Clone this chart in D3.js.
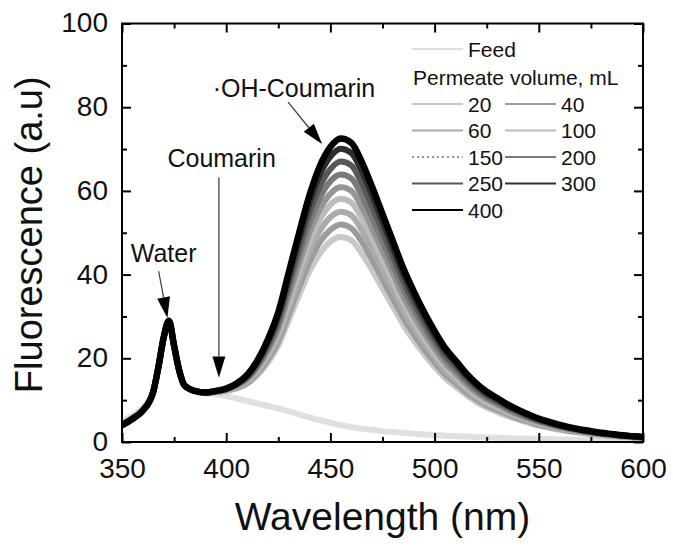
<!DOCTYPE html>
<html>
<head>
<meta charset="utf-8">
<script src="https://cdn.jsdelivr.net/npm/d3@7"></script>
<style>
  html, body { margin: 0; padding: 0; background: #fff; }
  svg { display: block; font-family: "Liberation Sans", Arial, sans-serif; }
</style>
</head>
<body>
<svg id="chart" width="673" height="546"></svg>
<script>
// Emission wavelengths (nm)
const wavelength = [350, 355, 360, 365, 367.5, 370, 372.5, 375, 377.5, 380, 385, 390, 395, 400,
  405, 410, 415, 420, 425, 430, 435, 440, 445, 450, 455, 460, 465, 470, 475, 480, 485, 490, 495, 500,
  505, 510, 515, 520, 525, 530, 535, 540, 545, 550, 555, 560, 565, 570, 575, 580, 585, 590, 595, 600];

// Fluorescence intensity (a.u.) per sample
const feed = [5.0, 6.3, 8.2, 12.3, 17.8, 24.5, 28.5, 22.5, 16.8, 13.5, 12.1, 11.6, 11.4, 11.0,
  10.4, 9.8, 9.2, 8.6, 8.0, 7.3, 6.6, 5.9, 5.2, 4.6, 4.0, 3.6, 3.2, 2.9, 2.6, 2.4, 2.2, 2.0, 1.8, 1.7,
  1.5, 1.4, 1.3, 1.2, 1.1, 1.0, 0.9, 0.85, 0.8, 0.75, 0.7, 0.65, 0.6, 0.55, 0.5, 0.5, 0.45, 0.45, 0.4, 0.4];
const p20 = [4.3, 5.8, 7.7, 12.1, 17.9, 24.8, 28.8, 22.8, 16.9, 13.5, 12.2, 11.7, 11.9, 12.2,
  12.8, 13.9, 16.0, 19.0, 23.1, 29.1, 35.1, 40.8, 45.1, 47.9, 49.0, 48.2, 45.1, 41.1, 36.7, 32.4, 28.0, 24.3, 21.0, 18.0,
  15.3, 13.3, 11.3, 9.6, 8.3, 7.2, 6.2, 5.4, 4.6, 3.9, 3.4, 2.9, 2.5, 2.2, 1.9, 1.6, 1.4, 1.2, 1.1, 0.9];
const p40 = [4.3, 5.7, 7.7, 12.1, 17.9, 24.9, 28.9, 22.9, 16.9, 13.5, 12.2, 11.7, 12.0, 12.3,
  12.9, 14.1, 16.4, 19.7, 24.1, 30.5, 37.0, 43.1, 47.8, 50.7, 52.0, 51.1, 47.9, 43.6, 38.9, 34.3, 29.7, 25.8, 22.2, 19.1,
  16.2, 14.1, 11.9, 10.2, 8.7, 7.7, 6.6, 5.6, 4.9, 4.1, 3.6, 3.1, 2.6, 2.3, 2.0, 1.7, 1.5, 1.3, 1.1, 1.0];
const p60 = [4.3, 5.7, 7.7, 12.1, 17.9, 24.9, 28.9, 22.9, 16.9, 13.5, 12.2, 11.7, 12.0, 12.3,
  13.1, 14.4, 16.9, 20.5, 25.1, 32.0, 38.9, 45.5, 50.5, 53.7, 55.0, 54.2, 50.7, 46.2, 41.3, 36.4, 31.5, 27.3, 23.6, 20.2,
  17.1, 14.9, 12.6, 10.7, 9.2, 8.1, 6.9, 6.0, 5.1, 4.4, 3.8, 3.2, 2.8, 2.4, 2.1, 1.8, 1.5, 1.3, 1.2, 1.0];
const p100 = [4.2, 5.7, 7.6, 12.1, 18.0, 24.9, 28.9, 22.9, 17.0, 13.5, 12.2, 11.8, 12.0, 12.4,
  13.2, 14.7, 17.3, 21.2, 26.2, 33.5, 40.9, 47.9, 53.2, 56.7, 58.1, 57.2, 53.6, 48.8, 43.6, 38.4, 33.3, 28.9, 24.9, 21.3,
  18.1, 15.7, 13.3, 11.3, 9.7, 8.5, 7.3, 6.3, 5.4, 4.6, 3.9, 3.4, 2.9, 2.5, 2.2, 1.8, 1.6, 1.4, 1.2, 1.0];
const p150 = [4.2, 5.6, 7.6, 12.1, 18.0, 24.9, 28.9, 22.9, 17.0, 13.5, 12.2, 11.8, 12.1, 12.5,
  13.4, 15.0, 17.8, 21.8, 27.1, 34.9, 42.6, 50.0, 55.7, 59.3, 60.9, 60.0, 56.2, 51.1, 45.7, 40.3, 34.8, 30.2, 26.0, 22.3,
  18.9, 16.4, 13.9, 11.8, 10.2, 8.9, 7.6, 6.5, 5.6, 4.8, 4.1, 3.5, 3.0, 2.6, 2.2, 1.9, 1.7, 1.4, 1.2, 1.1];
const p200 = [4.1, 5.6, 7.6, 12.0, 18.0, 24.9, 28.9, 22.9, 17.0, 13.5, 12.2, 11.8, 12.1, 12.6,
  13.6, 15.2, 18.2, 22.5, 28.1, 36.4, 44.6, 52.4, 58.4, 62.3, 63.9, 63.0, 59.0, 53.7, 48.0, 42.3, 36.6, 31.8, 27.4, 23.4,
  19.9, 17.2, 14.6, 12.4, 10.6, 9.3, 8.0, 6.8, 5.9, 5.0, 4.3, 3.7, 3.1, 2.7, 2.3, 2.0, 1.7, 1.5, 1.3, 1.1];
const p250 = [4.1, 5.6, 7.6, 12.0, 18.0, 25.0, 29.0, 23.0, 17.0, 13.5, 12.2, 11.8, 12.1, 12.7,
  13.7, 15.5, 18.7, 23.2, 29.2, 37.8, 46.5, 54.8, 61.1, 65.2, 67.0, 66.1, 61.9, 56.4, 50.4, 44.4, 38.4, 33.3, 28.7, 24.5,
  20.8, 18.1, 15.3, 13.0, 11.1, 9.7, 8.4, 7.2, 6.1, 5.2, 4.5, 3.8, 3.3, 2.8, 2.4, 2.1, 1.8, 1.5, 1.3, 1.1];
const p300 = [4.0, 5.5, 7.5, 12.0, 18.0, 25.0, 29.0, 23.0, 17.0, 13.5, 12.2, 11.8, 12.2, 12.7,
  13.9, 15.8, 19.1, 23.9, 30.2, 39.3, 48.5, 57.1, 63.9, 68.2, 70.1, 69.1, 64.8, 59.0, 52.7, 46.4, 40.1, 34.8, 30.0, 25.6,
  21.8, 18.9, 16.0, 13.6, 11.6, 10.2, 8.7, 7.5, 6.4, 5.4, 4.7, 4.0, 3.4, 2.9, 2.5, 2.1, 1.9, 1.6, 1.4, 1.2];
const p400 = [4.0, 5.5, 7.5, 12.0, 18.0, 25.0, 29.0, 23.0, 17.0, 13.5, 12.2, 11.8, 12.2, 12.8,
  14.0, 16.0, 19.5, 24.5, 31.0, 40.5, 50.0, 59.0, 66.0, 70.5, 72.5, 71.5, 67.0, 61.0, 54.5, 48.0, 41.5, 36.0, 31.0, 26.5,
  22.5, 19.5, 16.5, 14.0, 12.0, 10.5, 9.0, 7.7, 6.6, 5.6, 4.8, 4.1, 3.5, 3.0, 2.6, 2.2, 1.9, 1.6, 1.4, 1.2];

// Legend labels
const feedLabel = "Feed";
const legendTitle = "Permeate volume, mL";
const volumeLabels = ["20", "40", "60", "100", "150", "200", "250", "300", "400"];

// Axis ticks
const xTicks = [350, 400, 450, 500, 550, 600];
const yTicks = [0, 20, 40, 60, 80, 100];

// ---- drawing ----
const svg = d3.select("#chart");
const plotLeft = 122, plotRight = 643, plotTop = 23.5, plotBottom = 442;

const x = d3.scaleLinear().domain([350, 600]).range([plotLeft, plotRight]);
const y = d3.scaleLinear().domain([0, 100]).range([plotBottom, plotTop]);

const series = [
  { key: feedLabel, values: feed, color: "#e0e0e0", dash: null },
  { key: "20",  values: p20,  color: "#c8c8c8", dash: null },
  { key: "40",  values: p40,  color: "#9c9c9c", dash: null },
  { key: "60",  values: p60,  color: "#ababab", dash: null },
  { key: "100", values: p100, color: "#bcbcbc", dash: null },
  { key: "150", values: p150, color: "#959595", dash: "2,2" },
  { key: "200", values: p200, color: "#7a7a7a", dash: null },
  { key: "250", values: p250, color: "#585858", dash: null },
  { key: "300", values: p300, color: "#2e2e2e", dash: null },
  { key: "400", values: p400, color: "#000000", dash: null }
];

const line = d3.line()
  .x((d, i) => x(wavelength[i]))
  .y(d => y(d))
  .curve(d3.curveMonotoneX);

svg.append("clipPath").attr("id", "plotClip")
  .append("rect").attr("x", plotLeft).attr("y", plotTop)
  .attr("width", plotRight - plotLeft).attr("height", plotBottom - plotTop);

// Spectra are noisy, so each trace is drawn as a broad band
const plot = svg.append("g").attr("clip-path", "url(#plotClip)");
series.forEach(s => {
  plot.append("path")
    .datum(s.values)
    .attr("d", line)
    .attr("fill", "none")
    .attr("stroke", s.color)
    .attr("stroke-width", s.key === "400" ? 6.5 : 6)
    .attr("stroke-linejoin", "round")
    .attr("stroke-linecap", "round")
    .attr("stroke-dasharray", s.dash ? "3,2" : null);
});

// Axes: inward major and minor ticks on all four sides
const fontAxis = 28;
function styleAxis(g, hideLabels) {
  g.select(".domain").remove();
  g.selectAll(".tick line").attr("stroke", "#000").attr("stroke-width", 2);
  g.selectAll(".tick text").attr("fill", "#111").style("font-size", fontAxis + "px")
    .style("font-family", "'Liberation Sans', Arial, sans-serif");
  if (hideLabels) g.selectAll(".tick text").remove();
}
const xMinor = d3.range(375, 600, 50);
const yMinor = d3.range(10, 100, 20);

svg.append("g").attr("transform", `translate(0,${plotBottom})`)
  .call(d3.axisBottom(x).tickValues(xTicks).tickSize(-9).tickPadding(16).tickFormat(d3.format("d")))
  .call(g => styleAxis(g, false));
svg.append("g").attr("transform", `translate(0,${plotBottom})`)
  .call(d3.axisBottom(x).tickValues(xMinor).tickSize(-5))
  .call(g => styleAxis(g, true));
svg.append("g").attr("transform", `translate(0,${plotTop})`)
  .call(d3.axisTop(x).tickValues(xTicks).tickSize(-9))
  .call(g => styleAxis(g, true));
svg.append("g").attr("transform", `translate(0,${plotTop})`)
  .call(d3.axisTop(x).tickValues(xMinor).tickSize(-5))
  .call(g => styleAxis(g, true));

svg.append("g").attr("transform", `translate(${plotLeft},0)`)
  .call(d3.axisLeft(y).tickValues(yTicks).tickSize(-9).tickPadding(14).tickFormat(d3.format("d")))
  .call(g => styleAxis(g, false))
  .call(g => g.selectAll(".tick text").attr("dy", "0.3em"));
svg.append("g").attr("transform", `translate(${plotLeft},0)`)
  .call(d3.axisLeft(y).tickValues(yMinor).tickSize(-5))
  .call(g => styleAxis(g, true));
svg.append("g").attr("transform", `translate(${plotRight},0)`)
  .call(d3.axisRight(y).tickValues(yTicks).tickSize(-9))
  .call(g => styleAxis(g, true));
svg.append("g").attr("transform", `translate(${plotRight},0)`)
  .call(d3.axisRight(y).tickValues(yMinor).tickSize(-5))
  .call(g => styleAxis(g, true));

// Frame
svg.append("rect")
  .attr("x", plotLeft).attr("y", plotTop)
  .attr("width", plotRight - plotLeft).attr("height", plotBottom - plotTop)
  .attr("fill", "none").attr("stroke", "#000").attr("stroke-width", 2);

// Axis titles
svg.append("text")
  .attr("x", (plotLeft + plotRight) / 2).attr("y", 530)
  .attr("text-anchor", "middle")
  .style("font-size", "39px").attr("fill", "#111")
  .text("Wavelength (nm)");
svg.append("text")
  .attr("transform", `translate(42,${(plotTop + plotBottom) / 2 + 2}) rotate(-90)`)
  .attr("text-anchor", "middle")
  .style("font-size", "38px").attr("fill", "#111")
  .text("Fluorescence (a.u)");

// Peak annotations with arrows (anchored in data coordinates)
function arrow(x0, y0, x1, y1) {
  const px0 = x(x0), py0 = y(y0), px1 = x(x1), py1 = y(y1);
  const len = Math.hypot(px1 - px0, py1 - py0);
  const ux = (px1 - px0) / len, uy = (py1 - py0) / len;
  const headLen = 21, headHalf = 6.5;
  const bx = px1 - ux * headLen, by = py1 - uy * headLen;
  svg.append("line")
    .attr("x1", px0).attr("y1", py0).attr("x2", bx).attr("y2", by)
    .attr("stroke", "#444").attr("stroke-width", 1.3);
  svg.append("path")
    .attr("d", `M${px1},${py1}L${bx - uy * headHalf},${by + ux * headHalf}L${bx + uy * headHalf},${by - ux * headHalf}Z`)
    .attr("fill", "#000");
}
function note(text, wx, wy) {
  svg.append("text").attr("x", x(wx)).attr("y", y(wy))
    .style("font-size", "25px").attr("fill", "#111").text(text);
}
note("Water", 354.2, 43);
arrow(367.6, 40.8, 371.8, 29.6);
note("Coumarin", 371.8, 65.7);
arrow(396.5, 63.2, 396.5, 15.4);
note("\u00B7OH-Coumarin", 393.5, 82.4);
arrow(429.7, 81.2, 446.0, 71.2);

// Legend
const legend = svg.append("g");
const rowY = [104, 130.5, 157, 183.5, 210];
function legendItem(s, lx, ly) {
  legend.append("line")
    .attr("x1", lx).attr("x2", lx + 51).attr("y1", ly).attr("y2", ly)
    .attr("stroke", s.color).attr("stroke-width", 2.2)
    .attr("stroke-dasharray", s.dash ? "2,3" : null);
  legend.append("text")
    .attr("x", lx + 56).attr("y", ly).attr("dy", "0.36em")
    .style("font-size", "21px").attr("fill", "#111").text(s.key);
}
legendItem(series[0], 412, 49);
legend.append("text").attr("x", 413).attr("y", 77).attr("dy", "0.36em")
  .style("font-size", "21px").attr("fill", "#111").text(legendTitle);
volumeLabels.forEach((v, i) => {
  const s = series.find(d => d.key === v);
  const col = i % 2, row = Math.floor(i / 2);
  legendItem(s, col === 0 ? 412 : 505, rowY[row]);
});
</script>
</body>
</html>
